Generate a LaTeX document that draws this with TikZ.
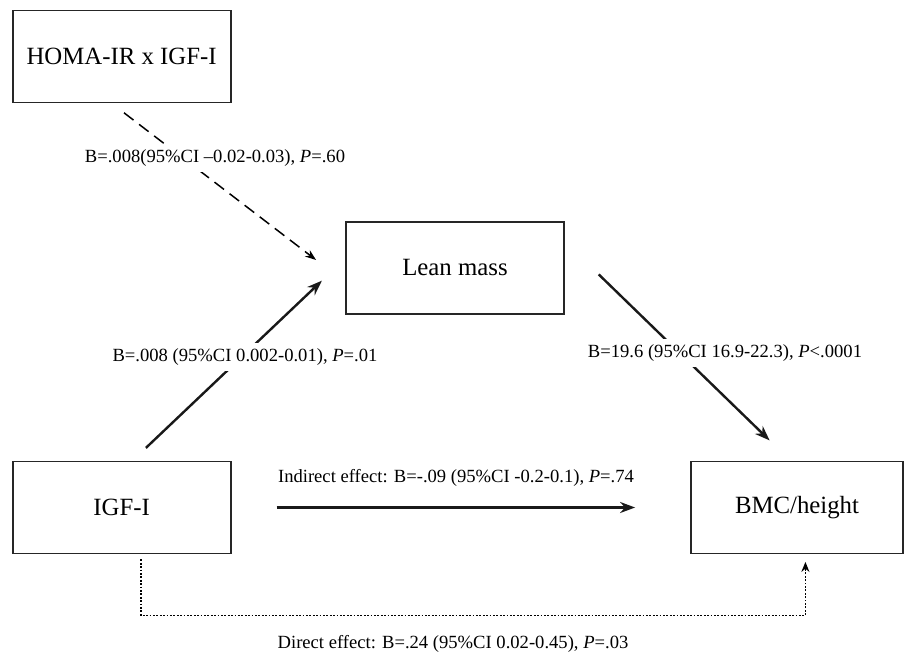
\documentclass[tikz,border=0pt]{standalone}
\usepackage{fontspec}
\setmainfont{Liberation Serif}
\usetikzlibrary{arrows.meta,positioning,calc}

\begin{document}
\begin{tikzpicture}[
    x=0.5pt, y=-0.5pt,
    font=\fontsize{9.3}{11}\selectfont,
    box/.style={
        draw=black!85,
        line width=0.9pt,
        minimum width=109pt,
        minimum height=46pt,
        inner sep=0pt,
        align=center,
        font=\fontsize{12.4}{15}\selectfont
    },
    lab/.style={
        fill=white,
        inner sep=3pt
    },
    arr/.style={-{Stealth[length=7.5pt,width=5.5pt]}, line width=1.2pt, black!90},
    dasharr/.style={-{Stealth[length=5.5pt,width=4pt]}, line width=0.75pt, dash pattern=on 6pt off 3.5pt},
    dotarr/.style={-{Stealth[length=5pt,width=4pt]}, line width=0.9pt, dash pattern=on 0.9pt off 0.8pt}
]
\useasboundingbox (0,0) rectangle (904,657);

\node[box] (homa) at (121.6,56.6) {HOMA-IR x IGF-I};
\node[box] (lean) at (455,268) {Lean mass};
\node[box] (igf) at (121.6,507.5) {IGF-I};
\node[box, minimum width=106pt] (bmc) at (797,507.5) {BMC/height};

\draw[dasharr] ([shift={(2.4,9.3)}]homa.south) -- ([shift={(-29,-8)}]lean.west);
\draw[arr] ([shift={(24.3,-12.7)}]igf.north) -- ([shift={(-23.2,12.7)}]lean.west);
\draw[arr] ([shift={(33.8,6.4)}]lean.east) -- ([shift={(-27.4,-20.2)}]bmc.north);
\draw[arr] ([shift={(45,0)}]igf.east) -- ([shift={(-55,0)}]bmc.west);
\draw[dotarr] ([shift={(19.4,5)}]igf.south) -- ++(0,56) -| ([shift={(8.4,7.5)}]bmc.south);

\node[lab] (modlab) at (215,158) {B=.008(95\%CI –0.02-0.03), \textit{P}=.60};
\node[lab] (alab) at (245,357) {B=.008 (95\%CI 0.002-0.01), \textit{P}=.01};
\node[lab] (blab) at (725,353) {B=19.6 (95\%CI 16.9-22.3), \textit{P}<.0001};
\node (indlab) at (456,478) {Indirect effect: B=-.09 (95\%CI -0.2-0.1), \textit{P}=.74};
\node (dirlab) at (453,644) {Direct effect: B=.24 (95\%CI 0.02-0.45), \textit{P}=.03};

\end{tikzpicture}
\end{document}
